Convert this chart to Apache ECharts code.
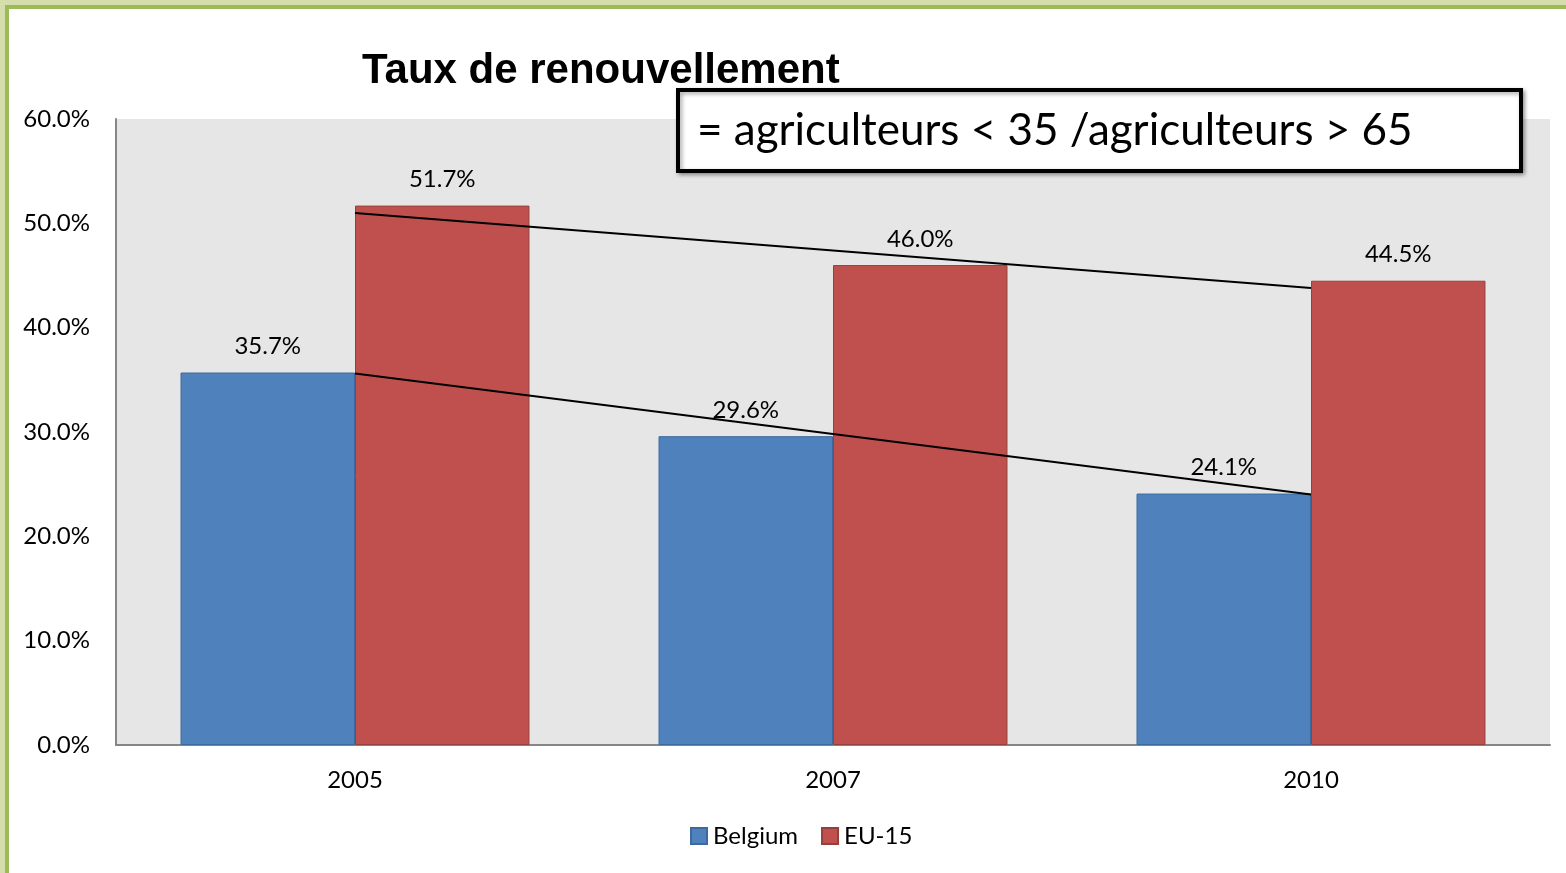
<!DOCTYPE html>
<html lang="fr" style="height: 100%">
<head>
    <meta charset="UTF-8">
    <title>Taux de renouvellement</title>
    <script src="https://cdn.jsdelivr.net/npm/echarts@6/dist/echarts.min.js"></script>
    <style>
        html, body { margin: 0; padding: 0; background: #fff; }
        #main { width: 1566px; height: 873px; }
    </style>
</head>
<body>
<div id="main"></div>
<script>
    var years = ['2005', '2007', '2010'];
    var belgium = [35.7, 29.6, 24.1];
    var eu15 = [51.7, 46.0, 44.5];
    // trend lines at each category centre
    var trendBelgium = [35.6, 29.8, 24.0];
    var trendEu15 = [51.0, 47.4, 43.8];
    var yTicks = [0, 10, 20, 30, 40, 50, 60];

    var font = 'Lato, "Open Sans", sans-serif';
    var pct = function (v) { return v.toFixed(1) + '%'; };
    var myChart = echarts.init(document.getElementById('main'));
    var option = {
        backgroundColor: '#ffffff',
        animation: false,
        textStyle: { fontFamily: font },
        grid: { left: 116, right: 16, top: 119, bottom: 128, backgroundColor: '#e6e6e6', show: true, borderWidth: 0 },
        legend: {
            data: ['Belgium', 'EU-15'],
            bottom: 20,
            left: 685,
            icon: 'rect',
            itemWidth: 16,
            itemHeight: 16,
            itemGap: 23,
            textStyle: { fontSize: 24, color: '#000', fontFamily: font, padding: [0, 0, 0, 1] }
        },
        xAxis: {
            type: 'category',
            data: years,
            axisLine: { lineStyle: { color: '#868686', width: 2 } },
            axisTick: { show: false },
            axisLabel: { fontSize: 24, color: '#000', margin: 23 }
        },
        yAxis: {
            type: 'value',
            min: yTicks[0],
            max: yTicks[yTicks.length - 1],
            interval: 10,
            splitLine: { show: false },
            axisLine: { show: true, lineStyle: { color: '#868686', width: 2 } },
            axisTick: { show: false },
            axisLabel: { fontSize: 24, color: '#000', margin: 26, formatter: pct }
        },
        series: [
            {
                name: 'Belgium', type: 'bar', data: belgium,
                barGap: '0%', barCategoryGap: '27%',
                itemStyle: { color: '#4f81bd', borderColor: '#3d6a9e', borderWidth: 1 },
                label: { show: true, position: 'top', distance: 14, fontSize: 24, color: '#000',
                    formatter: function (p) { return pct(p.value); } }
            },
            {
                name: 'EU-15', type: 'bar', data: eu15,
                itemStyle: { color: '#c0504d', borderColor: '#94403d', borderWidth: 1 },
                label: { show: true, position: 'top', distance: 14, fontSize: 24, color: '#000',
                    formatter: function (p) { return pct(p.value); } }
            },
            {
                name: 'trendB', type: 'line', data: trendBelgium, symbol: 'none', silent: true,
                lineStyle: { color: '#000', width: 2 }, z: 5
            },
            {
                name: 'trendE', type: 'line', data: trendEu15, symbol: 'none', silent: true,
                lineStyle: { color: '#000', width: 2 }, z: 5
            }
        ],
        graphic: [
            { type: 'rect', left: 0, top: 0, shape: { width: 1566, height: 5 }, style: { fill: '#d5deaa' }, z: 10 },
            { type: 'rect', left: 0, top: 0, shape: { width: 5, height: 873 }, style: { fill: '#d5deaa' }, z: 10 },
            { type: 'rect', left: 5, top: 5, shape: { width: 1561, height: 4 }, style: { fill: '#9bbb59' }, z: 10 },
            { type: 'rect', left: 5, top: 5, shape: { width: 4, height: 868 }, style: { fill: '#9bbb59' }, z: 10 },
            {
                type: 'text', left: 362, top: 50, z: 20,
                style: { text: 'Taux de renouvellement', fontSize: 42, fontWeight: 'bold', fill: '#000',
                    fontFamily: '"Liberation Sans", Arial, sans-serif' }
            },
            {
                type: 'rect', z: 30,
                shape: { x: 678, y: 90, width: 843, height: 81 },
                style: { fill: '#fff', stroke: '#000', lineWidth: 4, shadowBlur: 4, shadowColor: 'rgba(0,0,0,0.35)', shadowOffsetX: 2, shadowOffsetY: 2 }
            },
            {
                type: 'text', z: 31, left: 697, top: 109,
                style: { text: '= agriculteurs < 35 /agriculteurs > 65', fontSize: 44, fill: '#000', fontFamily: font }
            }
        ]
    };
    myChart.setOption(option);
</script>
</body>
</html>
